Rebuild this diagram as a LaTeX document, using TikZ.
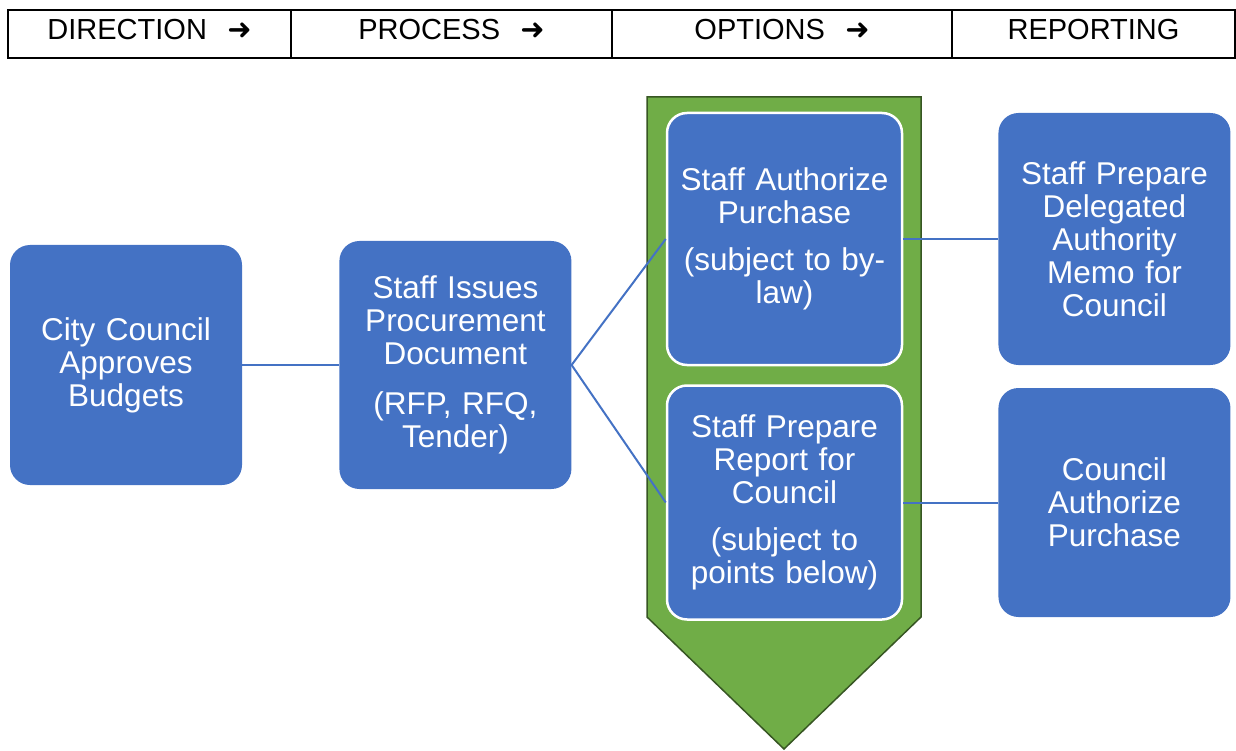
\documentclass[tikz,border=0pt]{standalone}
\usepackage{fontspec}
\setmainfont{Liberation Sans}
\newfontfamily\arrowfont{DejaVu Sans}
\usetikzlibrary{positioning}
\definecolor{boxblue}{HTML}{4472C4}
\definecolor{optgreen}{HTML}{70AD47}
\definecolor{optborder}{HTML}{375623}

\begin{document}
\begin{tikzpicture}[x=1pt,y=-1pt]
    \tikzstyle{cell} = [draw,line width=2pt,rectangle,outer sep=0pt,inner sep=0pt,text height=30pt,text depth=18pt,font=\fontsize{29}{33}\selectfont]
    \tikzstyle{stage} = [rectangle,rounded corners=20pt,fill=boxblue,text=white,align=center,text width=228pt,inner sep=0pt,minimum width=232pt,font=\fontsize{31.5}{33}\selectfont]
    \tikzstyle{option} = [stage,draw=white,line width=2.5pt,minimum width=235pt]
    \tikzstyle{link} = [draw=boxblue,line width=2pt]
    \newcommand{\nextarrow}{\hspace{0.7em}{\arrowfont\bfseries ➜}}
    \useasboundingbox (0,0) rectangle (1236,751);

    % header row
    \node[cell,minimum width=283pt,anchor=north west] (direction) at (8,10) {DIRECTION\nextarrow};
    \node[cell,minimum width=321pt,right = 0pt of direction] (process) {PROCESS\nextarrow};
    \node[cell,minimum width=340pt,right = 0pt of process] (options) {OPTIONS\nextarrow};
    \node[cell,minimum width=283pt,right = 0pt of options] (reporting) {REPORTING};

    % green arrow behind the two options
    \draw[fill=optgreen,draw=optborder,line width=1.5pt]
        (647,97) -- (921,97) -- (921,617) -- (784,749) -- (647,617) -- cycle;

    \node[stage,minimum height=240pt] (council) at (126,365) {City Council\\Approves\\Budgets};
    \node[stage,minimum height=248pt] (issues) [right = 97pt of council] {Staff Issues\\Procurement\\Document\\[17pt](RFP, RFQ,\\Tender)};
    \node[option,minimum height=252pt] (authorize) at (784.5,239) {Staff Authorize\\Purchase\\[14pt](subject to by-\\law)};
    \node[option,minimum height=234pt] (report) [below = 18pt of authorize] {Staff Prepare\\Report for\\Council\\[14pt](subject to\\points below)};
    \node[stage,minimum height=252pt] (memo) [right = 95pt of authorize] {Staff Prepare\\Delegated\\Authority\\Memo for\\Council};
    \node[stage,minimum height=229pt] (approval) [right = 95pt of report] {Council\\Authorize\\Purchase};

    \draw[link] (council) -- (issues);
    \draw[link] (authorize.west) -- (issues.east) -- (report.west);
    \draw[link] (authorize) -- (memo);
    \draw[link] (report) -- (approval);
\end{tikzpicture}
\end{document}
